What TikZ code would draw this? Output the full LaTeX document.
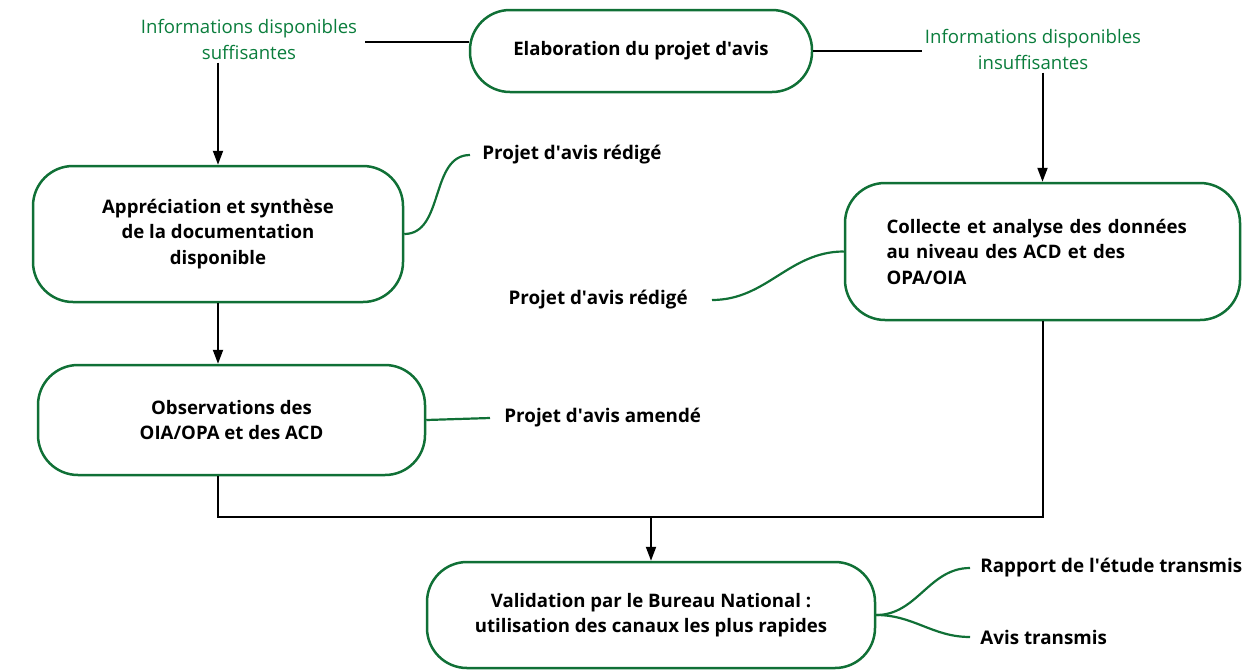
\documentclass[tikz,border=0pt]{standalone}
\usepackage{fontspec}
\setmainfont{Open Sans}
\usetikzlibrary{arrows.meta,calc}
\definecolor{boxgreen}{RGB}{16,112,54}
\definecolor{txtgreen}{RGB}{10,125,60}
\newcommand\apos{\textquotesingle}
\tikzset{
  stepbox/.style={draw=boxgreen, line width=1.25pt, rounded corners=20pt,
    font=\bfseries\fontsize{9.3}{12.75}\selectfont, align=center, inner sep=0pt},
  infolabel/.style={text=txtgreen, font=\fontsize{9.3}{13}\selectfont, align=center, inner sep=1.5pt},
  outlabel/.style={font=\bfseries\fontsize{9.4}{12.75}\selectfont, inner xsep=5pt, inner ysep=1pt, anchor=west},
  link/.style={draw=black, line width=1pt},
  flow/.style={link, -{Triangle[length=7pt,width=5pt]}},
  branch/.style={draw=boxgreen, line width=1.1pt},
}
\begin{document}
\begin{tikzpicture}[x=0.5pt,y=-0.5pt]
\useasboundingbox (0,0) rectangle (1243,671);

% process boxes
\node[stepbox, minimum width=171pt, minimum height=41pt] (top) at (641,51) {Elaboration du projet d\apos avis};
\node[stepbox, minimum width=185pt, minimum height=68pt] (A) at (218,234) {Appréciation et synthèse\\de la documentation\\disponible};
\node[stepbox, minimum width=197.5pt, minimum height=68.5pt, text width=156pt, align=left] (C) at (1042.5,251.5) {Collecte et analyse des données\\au niveau des ACD et des\\OPA/OIA};
\node[stepbox, minimum width=193.5pt, minimum height=55pt] (O) at (231.5,420) {Observations des\\OIA/OPA et des ACD};
\node[stepbox, minimum width=224pt, minimum height=53pt] (V) at (651,615) {Validation par le Bureau National :\\utilisation des canaux les plus rapides};

% condition labels
\node[infolabel, inner xsep=4pt] (infoS) at (249,39) {Informations disponibles\\suffisantes};
\node[infolabel] (infoI) at (1033,49) {Informations disponibles\\insuffisantes};

% outcome labels
\node[outlabel, inner xsep=6pt] (red1) at (470,155) {Projet d\apos avis rédigé};
\node[outlabel, anchor=east, inner xsep=12pt] (red2) at (712,300) {Projet d\apos avis rédigé};
\node[outlabel, inner xsep=7pt] (amd) at (490,418) {Projet d\apos avis amendé};
\node[outlabel] (rap) at (970,568) {Rapport de l\apos étude transmis};
\node[outlabel] (avt) at (970,637) {Avis transmis};

% main flow
\draw[link] ([yshift=-1.5pt]infoS.east) coordinate (s1) -- (s1 -| top.west);
\draw[flow] (A.north |- infoS.south) -- (A.north);
\draw[link] (top.east) -- (top.east -| infoI.west);
\draw[flow] (infoI.south -| C.north) -- (C.north);
\draw[flow] (A.south) -- (A.south |- O.north);
\coordinate (j) at (651,517);
\draw[link] (O.south -| A.south) |- (j) -| (C.south);
\draw[flow] (j) -- (V.north);

% green branches
\draw[branch] (A.east) to[out=0,in=180] (red1.west);
\draw[branch] (red2.east) to[out=0,in=180] (C.west);
\draw[branch] (O.east) -- (amd.west);
\draw[branch] (V.east) to[out=0,in=180] (rap.west);
\draw[branch] (V.east) to[out=0,in=180] (avt.west);
\end{tikzpicture}
\end{document}
